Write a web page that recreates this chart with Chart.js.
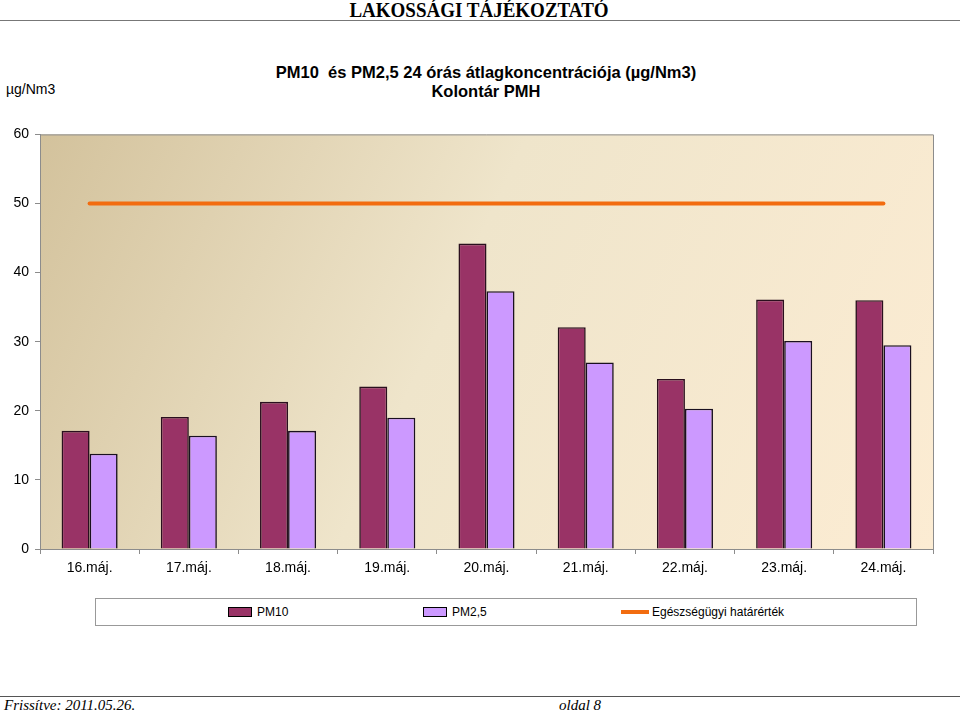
<!DOCTYPE html>
<html>
<head>
<meta charset="utf-8">
<script src="https://cdn.jsdelivr.net/npm/chart.js@4.4.1/dist/chart.umd.min.js"></script>
<style>
    body { margin: 0; background: #fff; width: 960px; height: 714px; position: relative; overflow: hidden; font-family: "Liberation Sans", Arial, sans-serif; }
    .abs { position: absolute; }
    #header { left: 0; top: 0; width: 960px; text-align: center; font-family: "Liberation Serif", serif; font-weight: bold; font-size: 19px; line-height: 22px; transform: translateX(-1px) scaleY(1.08); }
    #headerLine { left: 0; top: 20px; width: 960px; height: 1px; background: #777; }
    #title { left: 0; top: 63px; width: 972px; text-align: center; font-weight: bold; font-size: 16.5px; line-height: 19px; }
    #unit { left: 6px; top: 81px; font-size: 14px; }
    #chartBox { left: 0; top: 120px; width: 960px; height: 470px; }
    #legend { left: 95px; top: 598px; width: 820px; height: 26px; border: 1px solid #999; }
    .item { position: absolute; top: 6px; font-size: 12px; line-height: 14px; }
    .swatch { position: absolute; top: 8px; width: 22px; height: 8px; border: 1px solid #000; }
    .lineSw { position: absolute; top: 11px; width: 28px; height: 4px; background: #f26c10; }
    #footerLine { left: 0; top: 696px; width: 960px; height: 1px; background: #555; }
    .foot { top: 697px; font-family: "Liberation Serif", serif; font-style: italic; font-size: 15px; }
</style>
</head>
<body>
<div id="header" class="abs">LAKOSSÁGI TÁJÉKOZTATÓ</div>
<div id="headerLine" class="abs"></div>
<div id="title" class="abs">PM10&nbsp; és PM2,5 24 órás átlagkoncentrációja (µg/Nm3)<br>Kolontár PMH</div>
<div id="unit" class="abs">µg/Nm3</div>
<div id="chartBox" class="abs"><canvas id="myChart" width="960" height="470"></canvas></div>
<div id="legend" class="abs">
    <div class="swatch" style="left:132px;background:#993366"></div>
    <div class="item" style="left:161px">PM10</div>
    <div class="swatch" style="left:327px;background:#cc99ff"></div>
    <div class="item" style="left:356px">PM2,5</div>
    <div class="lineSw" style="left:525px"></div>
    <div class="item" style="left:556px">Egészségügyi határérték</div>
</div>
<div id="footerLine" class="abs"></div>
<div class="abs foot" style="left:4px">Frissítve: 2011.05.26.</div>
<div class="abs foot" style="left:559px">oldal 8</div>

<script>
    // Chart data
    const days = ['16.máj.', '17.máj.', '18.máj.', '19.máj.', '20.máj.', '21.máj.', '22.máj.', '23.máj.', '24.máj.']
    const pm10 = [17.1, 19.1, 21.3, 23.5, 44.2, 32.1, 24.6, 36.1, 36.0]
    const pm25 = [13.8, 16.4, 17.1, 19.0, 37.3, 27.0, 20.3, 30.1, 29.5]
    const limit = [50, 50, 50, 50, 50, 50, 50, 50, 50]
    const yTicks = [0, 10, 20, 30, 40, 50, 60]

    // Paint the beige gradient behind the plot and the frame on top/right
    const plotBackground = {
        id: 'plotBackground',
        beforeDraw(chart) {
            const { ctx, chartArea: a } = chart
            const g = ctx.createLinearGradient(a.left, a.top, a.right, a.bottom)
            g.addColorStop(0, '#d3c29c')
            g.addColorStop(0.45, '#efe5cb')
            g.addColorStop(1, '#fcecd3')
            ctx.save()
            ctx.fillStyle = g
            ctx.fillRect(a.left, a.top, a.right - a.left, a.bottom - a.top)
            ctx.strokeStyle = '#8c8c8c'
            ctx.lineWidth = 1
            ctx.beginPath()
            ctx.moveTo(a.left, a.top + 0.5)
            ctx.lineTo(a.right + 0.5, a.top + 0.5)
            ctx.lineTo(a.right + 0.5, a.bottom)
            ctx.stroke()
            ctx.restore()
        }
    }

    let ctx = document.getElementById('myChart')
    let myChart = new Chart(ctx, {
        data: {
            labels: days,
            datasets: [{
                type: 'line',
                label: 'Egészségügyi határérték',
                data: limit,
                borderColor: '#f26c10',
                borderWidth: 4,
                pointRadius: 0,
                borderCapStyle: 'round',
                order: 0
            }, {
                type: 'bar',
                label: 'PM10',
                data: pm10,
                backgroundColor: '#993366',
                borderColor: '#2a0f1e',
                borderWidth: 1.6,
                barPercentage: 1,
                categoryPercentage: 0.565,
                order: 1
            }, {
                type: 'bar',
                label: 'PM2,5',
                data: pm25,
                backgroundColor: '#cc99ff',
                borderColor: '#1a1020',
                borderWidth: 1.6,
                barPercentage: 1,
                categoryPercentage: 0.565,
                order: 1
            }]
        },
        options: {
            responsive: false,
            animation: false,
            layout: { padding: { top: 11, right: 27, bottom: 11, left: 0 } },
            plugins: {
                legend: { display: false },
                tooltip: { enabled: false }
            },
            scales: {
                x: {
                    offset: true,
                    grid: { offset: true, drawOnChartArea: false, tickLength: 5, color: '#8c8c8c' },
                    border: { color: '#8c8c8c' },
                    ticks: { color: '#000', font: { family: 'Liberation Sans', size: 14 }, padding: 6, maxRotation: 0 },
                    afterFit: (scale) => { scale.height = 30 }
                },
                y: {
                    min: 0,
                    max: 60,
                    afterBuildTicks: (scale) => { scale.ticks = yTicks.map(v => ({ value: v })) },
                    grid: { drawOnChartArea: false, tickLength: 5, color: '#8c8c8c' },
                    border: { color: '#8c8c8c' },
                    ticks: { color: '#000', font: { family: 'Liberation Sans', size: 14 }, padding: 6 },
                    afterFit: (scale) => { scale.width = 40 }
                }
            }
        },
        plugins: [plotBackground]
    })
</script>
</body>
</html>
